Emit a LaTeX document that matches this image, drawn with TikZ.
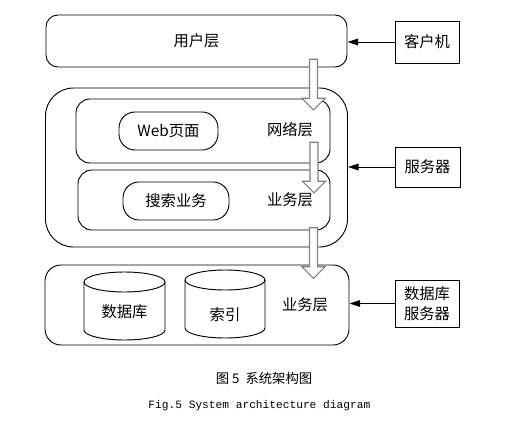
\documentclass[tikz,border=0pt]{standalone}
\usepackage{fontspec}
\setmainfont{Liberation Serif}
\newfontfamily\cjk{Noto Sans CJK SC}
\newfontfamily\figfont{Liberation Mono}
\usetikzlibrary{arrows.meta,shapes.arrows}

\tikzstyle{layer}=[draw,inner sep=0pt]
\tikzstyle{machine}=[draw,inner sep=0pt,align=center,font=\cjk\fontsize{11.5}{15}\selectfont]
\tikzstyle{label}=[inner sep=0pt,font=\cjk\fontsize{11.5}{15}\selectfont]
\tikzstyle{to}=[-{Triangle[length=8pt,width=5pt]}]
\tikzstyle{flow}=[single arrow,draw=gray,fill=white,line width=0.9pt,rotate=-90,
  inner sep=2.6pt,minimum height=38pt,single arrow head extend=5.6pt]

\begin{document}
\begin{tikzpicture}[x=0.75pt,y=-0.75pt,line width=0.7pt]

\useasboundingbox (0,0) rectangle (513,424);

%%% User Layer

\node [layer,rounded corners=9pt,minimum width=225.75pt,minimum height=39pt]
(user) at (196.5,41) {};
\node [label] (userlbl) at (196.5,41) {用户层};

\node [machine,minimum width=48pt,minimum height=31.5pt]
(client) at (427,42) {客户机};

\draw [to] (client.west) -- (client.west -| user.east);


%%% Server Group

\node [layer,rounded corners=21pt,minimum width=226.5pt,minimum height=119.25pt]
(srvgrp) at (196.5,167.5) {};

% Network Layer

\node [layer,rounded corners=10.5pt,minimum width=190.5pt,minimum height=48pt]
(net) at (203,131) {};
\node [layer,rounded corners=12pt,minimum width=74.25pt,minimum height=28.5pt,
label] (web) at (168.5,131) {Web页面};
\node [label] (netlbl) at (290,130) {网络层};

% Business Layer

\node [layer,rounded corners=10.5pt,minimum width=189pt,minimum height=45pt]
(biz) at (204,200) {};
\node [layer,rounded corners=12pt,minimum width=79.5pt,minimum height=28.5pt,
label] (search) at (176,201) {搜索业务};
\node [label] (bizlbl) at (290,200) {业务层};

\node [machine,minimum width=48.75pt,minimum height=30pt]
(server) at (427.5,167) {服务器};

\draw [to] (server.west) -- (server.west -| srvgrp.east);


%%% Data Group

\node [layer,rounded corners=12pt,minimum width=228pt,minimum height=60pt]
(datagrp) at (197,305) {};

% Database cylinder

\draw (84,282) -- (84,330) arc [start angle=180,end angle=0,x radius=40.5,y radius=10]
-- (165,282);
\draw (124.5,282) ellipse [x radius=40.5,y radius=10];
\node [label] (db) at (124.5,312) {数据库};

% Index cylinder

\draw (185,280) -- (185,328) arc [start angle=180,end angle=0,x radius=40,y radius=10]
-- (265,280);
\draw (225,280) ellipse [x radius=40,y radius=10];
\node [label] (idx) at (225,315) {索引};

\node [label] (datalbl) at (305,305) {业务层};

\node [machine,minimum width=48pt,minimum height=35.25pt]
(dbsrv) at (427,303.5) {数据库\\服务器};

\draw [to] (dbsrv.west) -- (dbsrv.west -| datagrp.east);


%%% Flow Arrows

\node [flow] (flowa) at (313.5,82.5) {};
\node [flow] (flowb) at (314,165.5) {};
\node [flow] (flowc) at (313.5,251) {};


%%% Captions

\node [inner sep=0pt,font=\cjk\fontsize{10}{12}\selectfont]
(cap) at (264,378) {图 5\ \ 系统架构图};

\node [anchor=west,inner sep=0pt,font=\figfont\fontsize{8.4}{10}\selectfont]
(figcap) at (148,406) {Fig.5 System architecture diagram};

\end{tikzpicture}
\end{document}
